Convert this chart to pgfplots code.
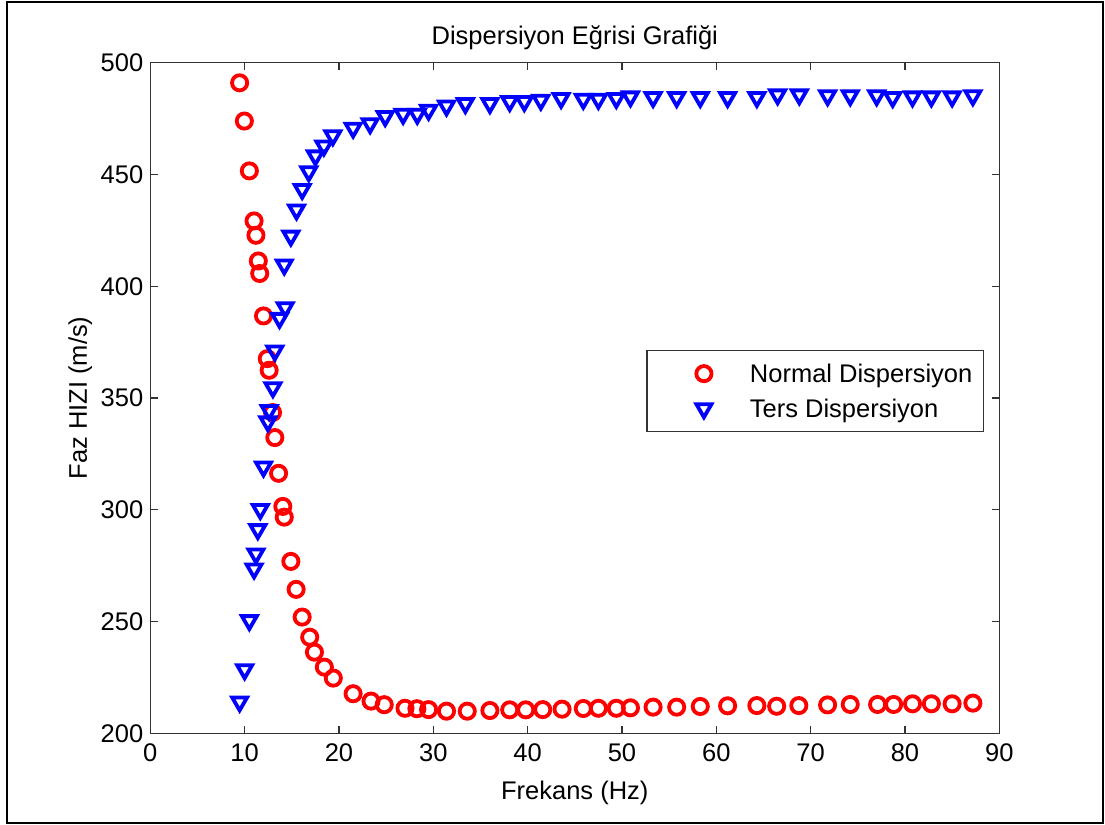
\documentclass[border=0pt]{standalone}
\usepackage{pgfplots}
\pgfplotsset{compat=1.18}
\usepackage{fontspec}
\setmainfont{Liberation Sans}
\newcommand{\chartfont}{\fontsize{12.75}{15}\selectfont}
\begin{document}
\begin{tikzpicture}
\path[use as bounding box] (-75.15pt,-45.85pt) rectangle (477.35pt,366.65pt);
\begin{axis}[
  scale only axis, width=424.5pt, height=335.3pt,
  xmin=0, xmax=90, ymin=200, ymax=500,
  xtick={0,10,...,90}, ytick={200,250,...,500},
  tick align=inside, major tick length=3.8pt,
  axis line style={black!80, line width=0.6pt},
  every tick/.style={black!80, line width=0.6pt},
  /pgf/number format/assume math mode=true,
  every tick label/.append style={font=\chartfont},
  xticklabel style={yshift=-1.6pt},
  title={Dispersiyon Eğrisi Grafiği},
  title style={at={(axis description cs:0.5,1.0085)}, anchor=base, font=\chartfont},
  xlabel={Frekans (Hz)},
  xlabel style={at={(axis description cs:0.5,-0.0985)}, anchor=base, font=\chartfont},
  ylabel={Faz HIZI (m/s)},
  ylabel style={at={(axis description cs:-0.0746,0.5)}, anchor=base, font=\chartfont},
  legend style={at={(axis description cs:0.982,0.5715)}, anchor=north east,
    draw=black!80, line width=0.6pt, fill=white, inner xsep=5.5pt, inner ysep=6.9pt,
    row sep=8.3pt, font=\chartfont,
    nodes={inner sep=0pt, text height=9.2pt, text depth=0pt},
    /tikz/every even column/.append style={column sep=0pt}},
  legend cell align=left,
  legend image code/.code={\path[draw=none,fill=none] (0pt,-4pt) rectangle (46pt,4pt);
    \draw[mark repeat=2,mark phase=2,#1] plot coordinates {(0pt,0pt) (23pt,0pt) (46pt,0pt)};},
]
\addplot[only marks, mark=o, color=red, mark size=3.8pt, mark options={solid, line width=1.9pt}] coordinates {
(9.47,491.0) (9.97,473.9) (10.5,451.6) (11.0,429.2) (11.2,422.8) (11.45,411.3)
(11.6,405.7) (12.0,386.7) (12.4,367.6) (12.6,362.4) (12.96,343.5) (13.2,332.3)
(13.6,316.3) (14.05,301.5) (14.2,296.7) (14.9,276.9) (15.46,264.4) (16.1,252.0)
(16.9,243.0) (17.4,236.3) (18.45,229.6) (19.4,224.7) (21.5,217.7) (23.4,214.4)
(24.8,212.8) (27.0,211.2) (28.26,211.0) (29.5,210.6) (31.4,209.9) (33.6,209.9)
(36.0,210.2) (38.1,210.5) (39.8,210.5) (41.6,210.6) (43.65,210.8) (45.9,211.1)
(47.5,211.2) (49.4,211.2) (50.9,211.4) (53.3,211.7) (55.8,211.7) (58.3,212.0)
(61.2,212.3) (64.3,212.4) (66.4,212.1) (68.75,212.4) (71.8,212.7) (74.2,212.9)
(77.1,212.9) (78.8,212.9) (80.8,213.2) (82.8,213.2) (85.0,213.2) (87.2,213.5)
};
\addlegendentry{Normal Dispersiyon}
\addplot[only marks, mark=triangle, color=blue, mark size=4.3pt, mark options={solid, rotate=180, line width=1.9pt}] coordinates {
(9.47,214.1) (10.0,228.5) (10.5,250.5) (11.0,273.6) (11.2,280.3) (11.4,291.2)
(11.66,300.2) (12.0,319.2) (12.47,339.4) (12.6,344.5) (13.0,354.7) (13.2,371.1)
(13.7,385.7) (14.3,390.5) (14.2,409.6) (14.9,422.5) (15.5,434.2) (16.1,443.4)
(16.8,451.3) (17.5,458.4) (18.4,462.8) (19.35,467.4) (21.5,470.8) (23.3,472.8)
(24.9,476.0) (26.8,477.0) (28.3,477.0) (29.5,478.8) (31.4,480.7) (33.4,481.8)
(36.0,481.8) (38.1,482.7) (39.65,482.7) (41.4,483.3) (43.55,484.1) (45.9,483.7)
(47.5,483.7) (49.4,484.1) (50.9,484.8) (53.3,484.5) (55.8,484.5) (58.3,484.5)
(61.2,484.5) (64.3,484.5) (66.5,485.7) (68.8,485.7) (71.8,485.3) (74.2,485.3)
(77.0,485.3) (78.7,484.5) (80.8,484.8) (82.8,484.8) (85.0,484.8) (87.2,485.3)
};
\addlegendentry{Ters Dispersiyon}
\end{axis}
\draw[line width=0.9pt] (-71.65pt,-44.85pt) rectangle (476.35pt,365.65pt);
\end{tikzpicture}
\end{document}
